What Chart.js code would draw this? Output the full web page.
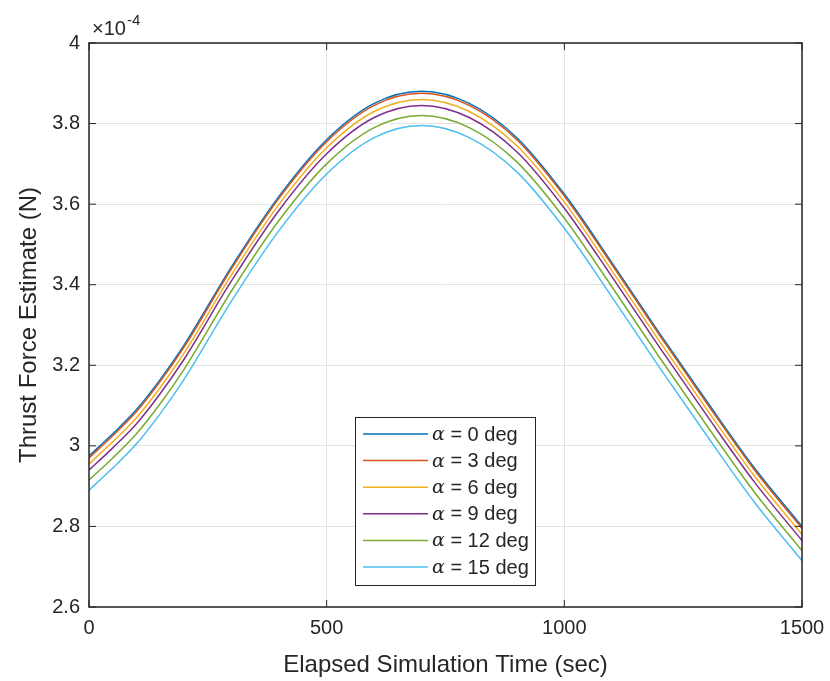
<!DOCTYPE html>
<html>
<head>
<meta charset="utf-8">
<script src="https://cdn.jsdelivr.net/npm/chart.js@4"></script>
<style>
  html, body { margin: 0; padding: 0; background: #fff; }
  #wrap { width: 830px; height: 681px; position: relative; }
</style>
</head>
<body>
<div id="wrap"><canvas id="thrustChart"></canvas></div>
<script>
// elapsed simulation time (sec)
const timeSec = [0, 50, 100, 150, 200, 300, 400, 500, 600, 700, 800, 900, 1000, 1100, 1200, 1300, 1400, 1500];
// thrust force estimate, in units of 1e-4 N, one array per angle of attack
const thrustA0  = [2.975, 3.03, 3.09, 3.165, 3.25, 3.445, 3.62, 3.76, 3.85, 3.88, 3.85, 3.765, 3.625, 3.455, 3.28, 3.11, 2.945, 2.80];
const thrustA3  = [2.97, 3.025, 3.085, 3.16, 3.245, 3.44, 3.615, 3.755, 3.845, 3.875, 3.845, 3.76, 3.62, 3.45, 3.275, 3.105, 2.94, 2.795];
const thrustA6  = [2.955, 3.01, 3.07, 3.145, 3.23, 3.425, 3.60, 3.74, 3.83, 3.86, 3.83, 3.745, 3.605, 3.435, 3.26, 3.09, 2.925, 2.78];
const thrustA9  = [2.94, 2.995, 3.055, 3.13, 3.215, 3.41, 3.585, 3.725, 3.815, 3.845, 3.815, 3.73, 3.59, 3.42, 3.245, 3.075, 2.91, 2.765];
const thrustA12 = [2.915, 2.97, 3.03, 3.105, 3.19, 3.385, 3.56, 3.70, 3.79, 3.82, 3.79, 3.705, 3.565, 3.395, 3.22, 3.05, 2.885, 2.74];
const thrustA15 = [2.89, 2.945, 3.005, 3.08, 3.165, 3.36, 3.535, 3.675, 3.765, 3.795, 3.765, 3.68, 3.54, 3.37, 3.195, 3.025, 2.86, 2.715];

const angleLabels = ["0", "3", "6", "9", "12", "15"];
const seriesColors = ["#0072BD", "#D95319", "#EDB120", "#7E2F8E", "#77AC30", "#4DBEEE"];
const allSeries = [thrustA0, thrustA3, thrustA6, thrustA9, thrustA12, thrustA15];

const xTicks = [0, 500, 1000, 1500];
const yTicks = [2.6, 2.8, 3, 3.2, 3.4, 3.6, 3.8, 4];

const axisColor = "#262626";
const fontFam = "'Liberation Sans', Arial, Helvetica, sans-serif";

// box, inner tick marks, exponent and legend, MATLAB style
const matlabAxes = {
  id: "matlabAxes",
  afterDraw(chart) {
    const ctx = chart.ctx;
    const a = chart.chartArea;
    const xs = chart.scales.x, ys = chart.scales.y;
    ctx.save();
    ctx.strokeStyle = axisColor;
    ctx.lineWidth = 1.5;
    ctx.strokeRect(a.left, a.top, a.right - a.left, a.bottom - a.top);
    ctx.lineWidth = 1;
    xTicks.forEach(v => {
      const px = xs.getPixelForValue(v);
      ctx.beginPath();
      ctx.moveTo(px, a.bottom); ctx.lineTo(px, a.bottom - 7);
      ctx.moveTo(px, a.top); ctx.lineTo(px, a.top + 7);
      ctx.stroke();
    });
    yTicks.forEach(v => {
      const py = ys.getPixelForValue(v);
      ctx.beginPath();
      ctx.moveTo(a.left, py); ctx.lineTo(a.left + 7, py);
      ctx.moveTo(a.right, py); ctx.lineTo(a.right - 7, py);
      ctx.stroke();
    });

    // x10^-4 exponent
    ctx.fillStyle = axisColor;
    ctx.textBaseline = "alphabetic";
    ctx.textAlign = "left";
    ctx.font = "20px " + fontFam;
    ctx.fillText("\u00d710", a.left + 3, a.top - 8);
    const w = ctx.measureText("\u00d710").width;
    ctx.font = "15px " + fontFam;
    ctx.fillText("-4", a.left + 4 + w, a.top - 18);

    // legend
    const lx = a.left + 266, ly = a.top + 374, lw = 180, lh = 168;
    ctx.fillStyle = "#fff";
    ctx.fillRect(lx, ly, lw, lh);
    ctx.strokeStyle = axisColor;
    ctx.lineWidth = 1;
    ctx.strokeRect(lx + 0.5, ly + 0.5, lw, lh);
    chart.data.datasets.forEach((ds, i) => {
      const yy = ly + 17 + i * 26.6;
      ctx.strokeStyle = ds.borderColor;
      ctx.lineWidth = 1.5;
      ctx.beginPath();
      ctx.moveTo(lx + 8, yy); ctx.lineTo(lx + 73, yy);
      ctx.stroke();
      ctx.fillStyle = axisColor;
      ctx.textBaseline = "middle";
      ctx.font = "italic 19px 'DejaVu Serif', serif";
      ctx.fillText("\u03b1", lx + 77, yy + 1);
      const aw = ctx.measureText("\u03b1").width;
      ctx.font = "20px " + fontFam;
      ctx.fillText(" = " + angleLabels[i] + " deg", lx + 77 + aw, yy + 1);
    });
    ctx.restore();
  }
};

new Chart(document.getElementById("thrustChart"), {
  type: "line",
  data: {
    datasets: allSeries.map((vals, i) => ({
      label: "\u03b1 = " + angleLabels[i] + " deg",
      data: timeSec.map((t, k) => ({ x: t, y: vals[k] })),
      borderColor: seriesColors[i],
      backgroundColor: seriesColors[i],
      borderWidth: 1.5,
      pointRadius: 0,
      cubicInterpolationMode: "monotone",
      order: 5 - i
    }))
  },
  options: {
    responsive: true,
    maintainAspectRatio: false,
    animation: false,
    layout: { padding: { left: 0, top: 43, right: 28, bottom: 0 } },
    plugins: { legend: { display: false }, tooltip: { enabled: false } },
    scales: {
      x: {
        type: "linear",
        min: 0, max: 1500,
        afterBuildTicks: s => { s.ticks = xTicks.map(v => ({ value: v })); },
        afterFit: s => { s.height = 74; s.paddingRight = 0; s.paddingLeft = 0; },
        grid: { color: "#e3e3e3", drawTicks: false },
        border: { display: false },
        ticks: { color: axisColor, padding: 9, font: { size: 20, family: fontFam }, maxRotation: 0,
                 callback: v => String(v) },
        title: { display: true, text: "Elapsed Simulation Time (sec)", color: axisColor,
                 font: { size: 24, family: fontFam }, padding: { top: 0, bottom: 1 } }
      },
      y: {
        min: 2.6, max: 4,
        afterBuildTicks: s => { s.ticks = yTicks.map(v => ({ value: v })); },
        afterFit: s => { s.width = 89; s.paddingTop = 0; s.paddingBottom = 0; },
        grid: { color: "#e3e3e3", drawTicks: false },
        border: { display: false },
        ticks: { color: axisColor, padding: 9, font: { size: 20, family: fontFam },
                 callback: v => String(Number(v.toFixed(1))) },
        title: { display: true, text: "Thrust Force Estimate (N)", color: axisColor,
                 font: { size: 24, family: fontFam }, padding: { top: 15, bottom: 0 } }
      }
    }
  },
  plugins: [matlabAxes]
});
</script>
</body>
</html>
